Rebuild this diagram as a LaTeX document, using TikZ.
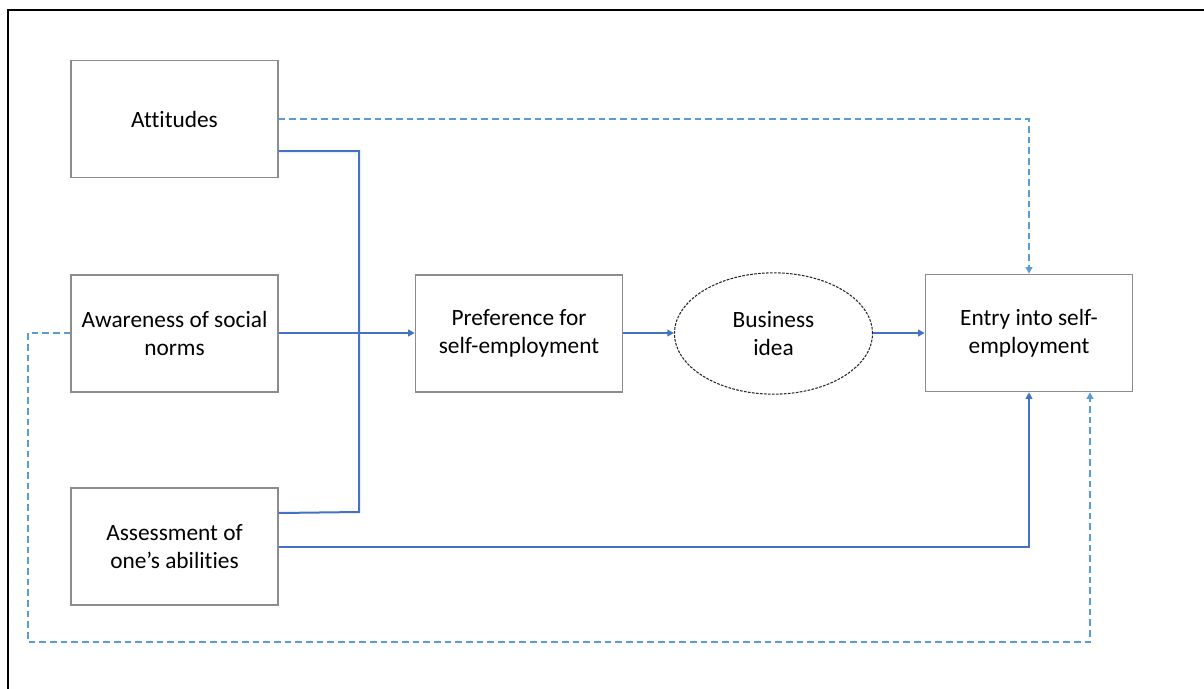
\documentclass[tikz,border=0pt]{standalone}
\usepackage{fontspec}
\setmainfont{Carlito}[Ligatures={NoCommon}]
\usetikzlibrary{arrows.meta,shapes.geometric}
\definecolor{solidblue}{HTML}{4472C4}
\definecolor{dashblue}{HTML}{5B9BD5}
\definecolor{boxgray}{HTML}{8C8C8C}
\begin{document}
\begin{tikzpicture}[x=0.75pt,y=-0.75pt,
  box/.style={draw=boxgray,line width=1.1pt,minimum width=155.25pt,minimum height=87.75pt,
    align=center,font=\fontsize{17.5}{21}\selectfont,inner sep=0pt},
  solidc/.style={draw=solidblue,line width=1.5pt},
  dashc/.style={draw=dashblue,line width=1.4pt,dash pattern=on 5pt off 3pt},
  tip/.style={-{Triangle[width=5pt,length=5pt]}}]
\useasboundingbox (0,0) rectangle (1204,689);
\draw[black,line width=1.6pt] (8,689) -- (8,10) -- (1204,10);
\node[box] (att) at (174.5,119) {Attitudes};
\node[box] (awa) at (174.5,333.5) {Awareness of social\\norms};
\node[box] (ass) at (174.5,546.5) {Assessment of\\one’s abilities};
\node[box] (pref) at (519,333.5) {Preference for\\self-employment};
\node[draw=black!85,dash pattern=on 2pt off 1pt,line width=0.8pt,ellipse,minimum width=148.5pt,minimum height=91pt,
  align=center,font=\fontsize{17.5}{21}\selectfont,inner sep=0pt] (idea) at (773.5,333.5) {Business\\idea};
\node[box] (entry) at (1029,333) {Entry into self-\\employment};
\coordinate (a1) at (att.east |- 0,119);
\coordinate (a2) at (att.east |- 0,151);
\coordinate (s1) at (ass.east |- 0,513);
\coordinate (s2) at (ass.east |- 0,547);
\coordinate (w1) at (awa.west |- 0,333);
\coordinate (w2) at (awa.east |- 0,333);
\coordinate (p1) at (pref.west |- 0,333);
\coordinate (p2) at (pref.east |- 0,333);
\coordinate (i1) at (idea.west |- 0,333);
\coordinate (i2) at (idea.east |- 0,333);
\coordinate (e1) at (entry.west |- 0,333);
% dashed from attitudes
\draw[dashc,tip] (a1) -- (1029,119) -- (entry.north);
% solid bracket
\draw[solidc] (a2) -- (359,151) -- (359,512) -- (s1);
\draw[solidc,tip] (w2) -- (p1);
\draw[solidc,tip] (p2) -- (i1);
\draw[solidc,tip] (i2) -- (e1);
\draw[solidc,tip] (s2) -- (1029,547) -- (entry.south);
% dashed from awareness around
\draw[dashc,tip] (w1) -- (28,333) -- (28,642) -- (1090,642) -- (entry.south -| 1090,0);
\end{tikzpicture}
\end{document}
